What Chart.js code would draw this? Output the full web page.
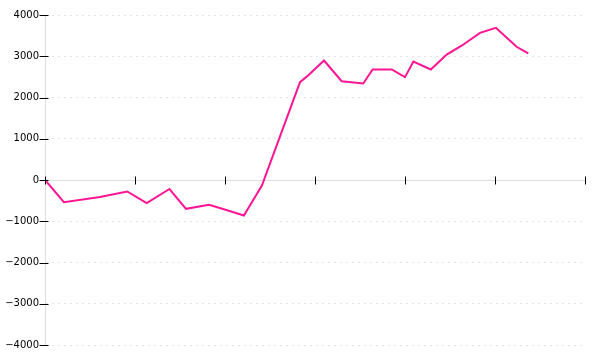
<!DOCTYPE html>
<html>
<head>
<meta charset="utf-8">
<script src="https://cdn.jsdelivr.net/npm/chart.js@4"></script>
<style>
  html, body { margin: 0; padding: 0; background: #fff; }
  canvas { display: block; }
</style>
</head>
<body>
<canvas id="chart" width="600" height="360"></canvas>
<script>
// x = day offset from the first point, y = running value
const xDays = [0, 6.3, 18.3, 27.4, 33.9, 41.5, 47, 54.7, 60.7, 66.3, 72.3,
  85, 87.7, 93, 98.9, 106.1, 109.2, 115.6, 120, 122.8, 128.6, 133.9, 139, 145, 150.3, 155.3, 157.2, 161.1];
const values = [0, -538, -410, -279, -562, -218, -698, -601, -732, -861, -133,
  2371, 2533, 2897, 2395, 2339, 2679, 2679, 2492, 2873, 2679, 3042, 3261, 3568, 3690, 3358, 3229, 3067];
const yTicks = [-4000, -3000, -2000, -1000, 0, 1000, 2000, 3000, 4000];
const xTicks = [0, 30, 60, 90, 120, 150, 180];

const points = xDays.map((x, i) => ({ x, y: values[i] }));

// black tick marks that cross both axis lines
const tickMarks = {
  id: "tickMarks",
  afterDraw(chart) {
    const { ctx, scales } = chart;
    const xs = scales.x, ys = scales.y;
    const y0 = Math.round(ys.getPixelForValue(0)) + 0.5;
    const x0 = Math.round(xs.left) + 0.5;
    ctx.save();
    ctx.strokeStyle = "#000";
    ctx.lineWidth = 1;
    ctx.beginPath();
    xTicks.forEach(v => {
      const px = Math.round(xs.getPixelForValue(v)) + 0.5;
      ctx.moveTo(px, y0 - 4);
      ctx.lineTo(px, y0 + 4);
    });
    yTicks.forEach(v => {
      const py = Math.round(ys.getPixelForValue(v)) + 0.5;
      ctx.moveTo(x0 - 6, py);
      ctx.lineTo(x0 + 3, py);
    });
    ctx.stroke();
    ctx.restore();
  },
};

new Chart(document.getElementById("chart"), {
  type: "line",
  data: {
    datasets: [{
      data: points,
      borderColor: "#ff1493",
      borderWidth: 2,
      pointRadius: 0,
      tension: 0,
      fill: false,
    }],
  },
  plugins: [tickMarks],
  options: {
    responsive: false,
    animation: false,
    layout: { padding: { left: 0, right: 15, top: 15, bottom: 15 } },
    plugins: { legend: { display: false }, tooltip: { enabled: false } },
    scales: {
      x: {
        type: "linear",
        position: { y: 0 },
        min: 0,
        max: 180,
        afterBuildTicks: s => { s.ticks = xTicks.map(v => ({ value: v })); },
        ticks: { display: false },
        grid: { display: false },
        border: { color: "#dddddd", width: 1 },
      },
      y: {
        min: -4000,
        max: 4000,
        afterBuildTicks: s => { s.ticks = yTicks.map(v => ({ value: v })); },
        afterFit: s => { s.width = 45; },
        ticks: {
          color: "#000",
          padding: 6,
          font: { family: "DejaVu Sans", size: 10 },
          callback: v => (v < 0 ? "\u2212" + Math.abs(v) : String(v)),
        },
        grid: {
          drawTicks: false,
          color: c => (c.tick && c.tick.value === 0 ? "rgba(0,0,0,0)" : "#e4e4e4"),
        },
        border: { color: "#dddddd", width: 1, dash: [2, 4] },
      },
    },
  },
});
</script>
</body>
</html>
